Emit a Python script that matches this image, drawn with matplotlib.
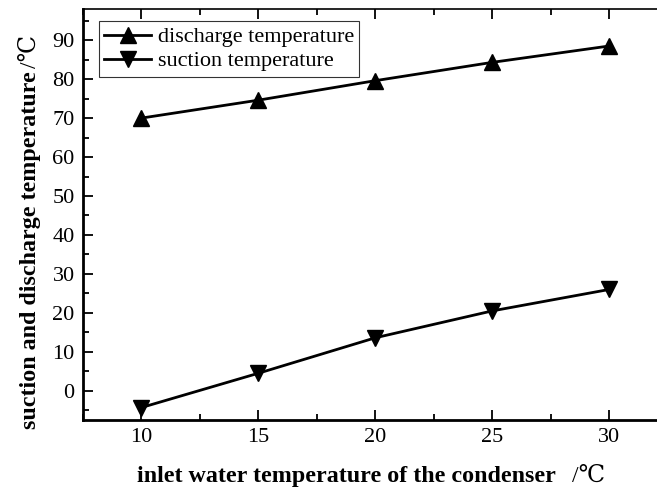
import matplotlib
matplotlib.use("Agg")
import matplotlib.pyplot as plt
from matplotlib.ticker import MultipleLocator

x_vals = [10, 15, 20, 25, 30]
discharge = [70.0, 74.6, 79.6, 84.3, 88.5]
suction = [-4.3, 4.5, 13.6, 20.5, 26.0]
series_labels = ["discharge temperature", "suction temperature"]
x_label = "inlet water temperature of the condenser"
y_label = "suction and discharge temperature"
unit = "/\u2103"

plt.rcParams['font.family'] = ['Liberation Serif', 'DejaVu Serif']

fig = plt.figure(figsize=(6.57, 4.93), dpi=100)
ax = fig.add_axes([83/657, 73/493, (667.5-83)/657, (420-9)/493])

ax.plot(x_vals, discharge, color='black', lw=2.0, marker='^', ms=12, label=series_labels[0])
ax.plot(x_vals, suction, color='black', lw=2.0, marker='v', ms=12, label=series_labels[1])

ax.set_xlim(7.5, 32.5)
ax.set_ylim(-7.5, 98)
ax.xaxis.set_major_locator(MultipleLocator(5))
ax.xaxis.set_minor_locator(MultipleLocator(2.5))
ax.yaxis.set_major_locator(MultipleLocator(10))
ax.yaxis.set_minor_locator(MultipleLocator(5))
ax.tick_params(which='both', direction='in', top=True, right=True, width=1.3, labelsize=16, pad=6)
ax.tick_params(which='major', length=7)
ax.tick_params(which='minor', length=4)
for s in ['left', 'bottom']:
    ax.spines[s].set_linewidth(2.0)
ax.spines['top'].set_linewidth(1.2)
ax.spines['right'].set_linewidth(1.2)

ax.set_xlabel(x_label, fontsize=17.3, fontweight='bold')
ax.xaxis.set_label_coords((346.5 - 83) / 584.5, (420 - 466) / 411)
ax.set_ylabel(y_label, fontsize=17.3, fontweight='bold')
ax.yaxis.set_label_coords((41 - 83) / 584.5, (420 - 250) / 411)

ax.annotate(unit, xy=(1, 0.5), xycoords=ax.xaxis.label, xytext=(11.5, 0),
            textcoords='offset points', ha='left', va='center', fontsize=17)
ax.annotate(unit, xy=(0.5, 1), xycoords=ax.yaxis.label, xytext=(0, 2.5),
            textcoords='offset points', ha='center', va='bottom', rotation=90, fontsize=17)

leg = ax.legend(loc='upper left', bbox_to_anchor=(0.027, 0.97), fontsize=16, frameon=True,
                fancybox=False, edgecolor='black', handlelength=2.1, handletextpad=0.3,
                borderpad=0.25, labelspacing=0.15, borderaxespad=0)
leg.get_frame().set_linewidth(0.8)

fig.savefig("out.png", dpi=100)
